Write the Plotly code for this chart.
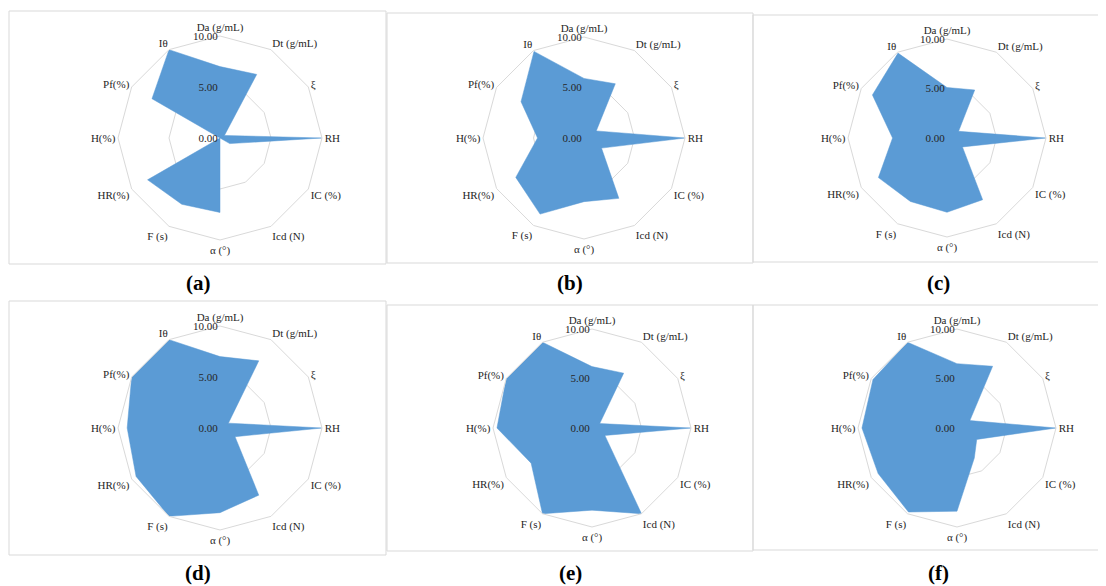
import plotly.graph_objects as go

categories = ["Da (g/mL)", "Dt (g/mL)", "ξ", "RH", "IC (%)", "Icd (N)",
              "α (°)", "F (s)", "HR(%)", "H(%)", "Pf(%)", "Iθ"]

vals_a = [7.0, 7.2, 0.5, 10.0, 1.1, 0.0, 7.3, 7.5, 8.2, 0.0, 7.7, 10.0]
vals_b = [5.9, 6.2, 1.4, 10.0, 2.0, 6.9, 6.3, 8.7, 7.8, 4.6, 7.2, 9.9]
vals_c = [5.1, 5.6, 1.35, 10.0, 1.8, 7.2, 7.5, 7.4, 8.0, 5.5, 8.7, 9.9]
vals_d = [7.0, 7.6, 0.95, 10.0, 1.7, 7.6, 8.3, 10.0, 9.5, 9.1, 10.0, 10.0]
vals_e = [6.2, 6.4, 0.9, 10.0, 1.5, 10.0, 8.3, 10.0, 7.1, 9.6, 10.0, 10.0]
vals_f = [6.5, 7.2, 1.5, 10.0, 2.3, 3.5, 8.4, 9.8, 9.2, 9.6, 9.8, 10.0]

panel_labels = ["(a)", "(b)", "(c)", "(d)", "(e)", "(f)"]
radial_ticks = [0, 5, 10]
radial_ticktext = ["0.00", "5.00", "10.00"]

series = [vals_a, vals_b, vals_c, vals_d, vals_e, vals_f]

W, H = 1106, 586
OFF = 8  # browser body margin
# centers and radius in reference px
centers = [(220, 138, 102), (584, 138, 101), (947, 138, 99),
           (220, 428, 102), (592, 428, 99), (957, 428, 99)]
boxes = [(9, 11, 386, 264), (387, 13, 753, 263), (753, 15, 1120, 262),
         (9, 301, 386, 555), (387, 305, 753, 551), (753, 305, 1120, 550)]
label_pos = [(198, 283), (570, 283), (938, 283),
             (198, 573), (570, 573), (938, 573)]


def px(x):
    return (x - OFF) / W


def py(y):
    return (H - (y - OFF)) / H


FILL = "#5B9BD5"
FONT = "Liberation Serif"
TXT = "#262626"
fig = go.Figure()
layout_polars = {}
shapes = []
annotations = []
for i, vals in enumerate(series):
    name = "polar" if i == 0 else f"polar{i+1}"
    fig.add_trace(go.Scatterpolar(
        r=vals + [vals[0]], theta=categories + [categories[0]],
        fill="toself", fillcolor=FILL, mode="lines",
        line=dict(color=FILL, width=0.5), subplot=name, showlegend=False,
        hoverinfo="skip"))
    cx, cy, R = centers[i]
    layout_polars[name] = dict(
        domain=dict(x=[px(cx - R), px(cx + R)], y=[py(cy + R), py(cy - R)]),
        gridshape="linear",
        bgcolor="rgba(0,0,0,0)",
        radialaxis=dict(range=[0, 10], tickvals=radial_ticks, ticktext=radial_ticktext,
                        angle=90, tickangle=90, showline=False, ticks="",
                        gridcolor="#D9D9D9", gridwidth=1, side="counterclockwise",
                        tickfont=dict(family=FONT, size=11, color=TXT),
                        layer="above traces"),
        angularaxis=dict(direction="clockwise", rotation=90, showgrid=False,
                         linecolor="#D9D9D9", linewidth=1, ticks="",
                         tickfont=dict(family=FONT, size=11, color=TXT)),
    )
    bx0, by0, bx1, by1 = boxes[i]
    shapes.append(dict(type="rect", xref="paper", yref="paper",
                       x0=px(bx0), x1=px(bx1), y0=py(by1), y1=py(by0),
                       line=dict(color="#D9D9D9", width=1), layer="below"))
    lx, ly = label_pos[i]
    annotations.append(dict(text="<b>" + panel_labels[i] + "</b>", x=px(lx), y=py(ly),
                            xref="paper", yref="paper", showarrow=False,
                            xanchor="center", yanchor="middle",
                            font=dict(family=FONT, size=21, color="#000000")))

fig.update_layout(width=W, height=H, margin=dict(l=0, r=0, t=0, b=0),
                  paper_bgcolor="white", plot_bgcolor="white",
                  shapes=shapes, annotations=annotations, **layout_polars)
fig.write_html("out.html")
